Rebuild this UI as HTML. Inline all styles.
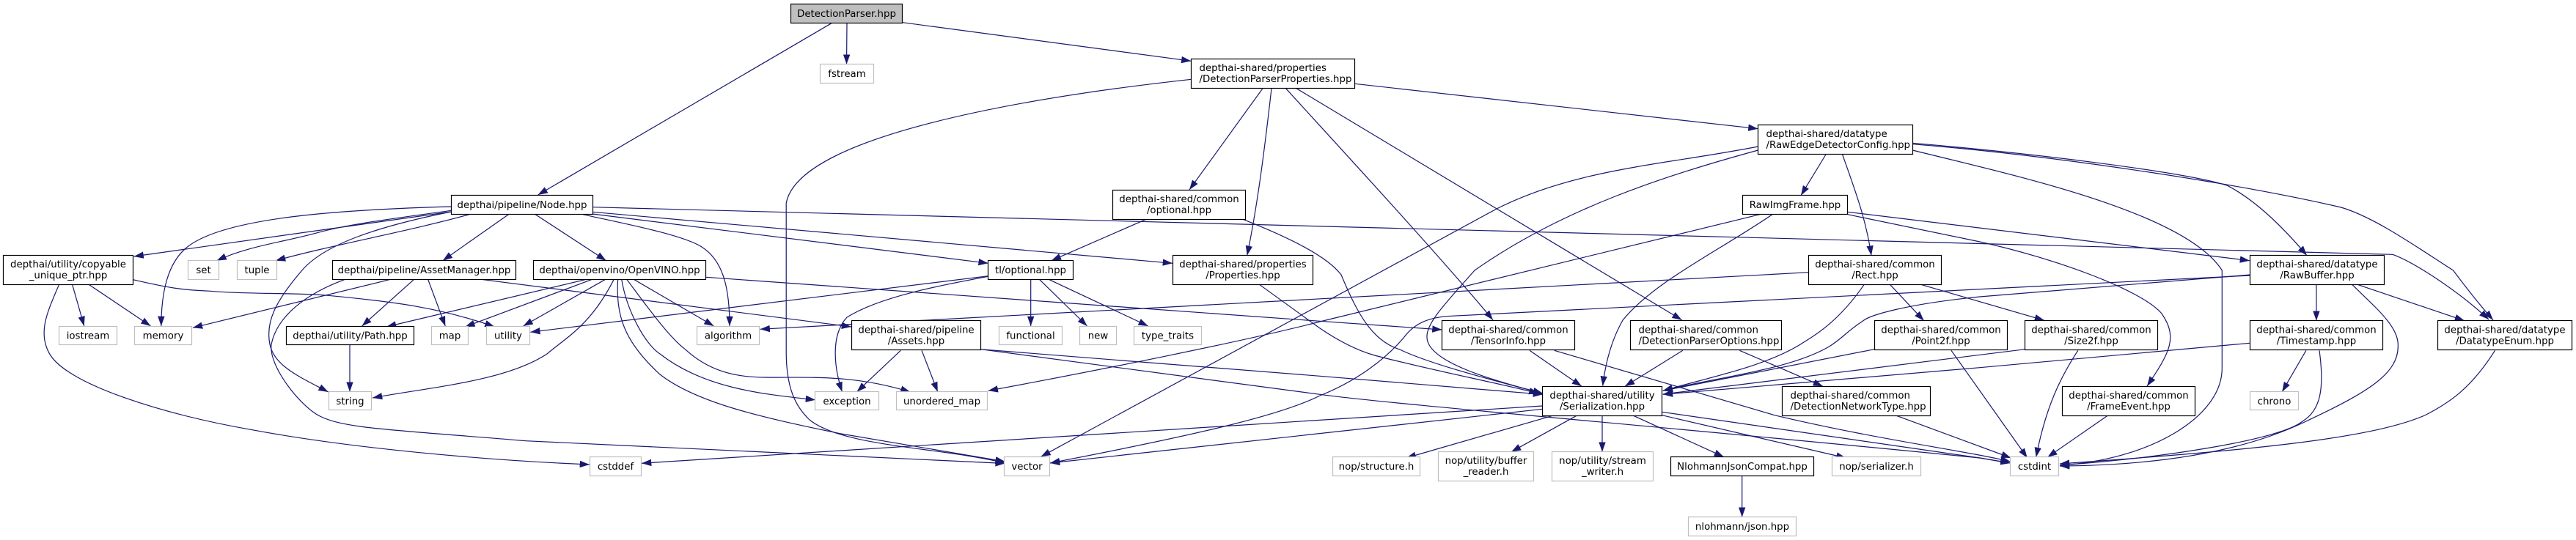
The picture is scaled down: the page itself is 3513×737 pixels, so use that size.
<!DOCTYPE html>
<html><head><meta charset="utf-8"><title>DetectionParser.hpp include graph</title>
<style>
html,body{margin:0;padding:0;background:#fff;width:3513px;height:737px;overflow:hidden}
svg{display:block}
text{font-family:"DejaVu Sans","Liberation Sans",sans-serif;font-size:13.33px;fill:#000;text-anchor:middle}
text.l{text-anchor:start}
rect{fill:#fff;stroke:#000;stroke-width:1.2}
rect.g{stroke:#bfbfbf}
rect.r{fill:#bfbfbf}
path{fill:none;stroke:#191970;stroke-width:1.2}
</style></head><body>
<svg width="3513" height="737" viewBox="0 0 3513 737" xmlns="http://www.w3.org/2000/svg">
<defs><marker id="a" markerUnits="userSpaceOnUse" markerWidth="15" markerHeight="11" refX="13.3" refY="5" orient="auto"><polygon points="0,0.3 13.3,5 0,9.7" fill="#191970"/></marker></defs>
<g marker-end="url(#a)">
<path d="M1134,31.7L733.6,266"/>
<path d="M1155,31.7L1154.5,87.7"/>
<path d="M1231,30.7L1624.4,83.3"/>
<path d="M1624.4,108.3C1400,133 1090,185 1072.2,277L1072.2,480C1072.2,530 1085,555 1104,573C1150,610 1280,610 1370.7,632"/>
<path d="M1722,120.7L1622,259"/>
<path d="M1734,120.7C1725,200 1715,280 1700.7,348.7"/>
<path d="M1753.6,120.7C1800,172 1960,345 2036,436.7"/>
<path d="M1768,120.7L2293.6,436.7"/>
<path d="M1847.6,114.3L2397.5,175.7"/>
<path d="M1563,299.3L1433.8,355.7"/>
<path d="M1695,299.3C1760,325 1810,350 1829,375C1850,425 1870,465 1909,477C1950,497 2040,520 2104,537"/>
<path d="M808,289.3L1599,359.3"/>
<path d="M808,292L1347.7,359.3"/>
<path d="M808,282.7L3263,347.3C3290,357 3350,395 3394,436"/>
<path d="M693.4,292.7L603.8,355.7"/>
<path d="M730.2,292.7L826.6,355.7"/>
<path d="M615.3,289L182.5,350"/>
<path d="M615.3,287.3C540,298 480,305 436.3,316.7C390,330 340,335 295.6,355.7"/>
<path d="M640,292.7C560,315 450,335 376,355.7"/>
<path d="M615.3,282C470,286 300,296 252,340C228,362 220,400 219.8,445"/>
<path d="M615.3,289C510,310 440,335 411,370C375,412 362,440 368,470C374,500 410,515 447.7,535"/>
<path d="M795,292.7C850,305 930,320 957,337C985,355 995,390 995,445"/>
<path d="M564.2,381.7L493.6,445"/>
<path d="M583.8,381.7L607.3,445"/>
<path d="M531,381.7L262.9,447.3"/>
<path d="M469.6,381.7C420,400 378,430 370,470C366,500 410,555 436.3,568C470,585 530,586 717,601.7L1370.7,632.5"/>
<path d="M659,381.7L1161,446"/>
<path d="M98.7,388.7L114.8,445"/>
<path d="M121.7,388.7L205.5,445"/>
<path d="M80.4,388.7C65,425 50,455 68.9,485C95,525 220,565 344,586.7C480,612 660,628 804,634"/>
<path d="M181.4,381.7C230,393 250,396 287,397.3C340,402 400,399 447.7,403.3C540,412 600,420 674.5,446"/>
<path d="M477,470.7L477,534.7"/>
<path d="M798,381.7L527,446"/>
<path d="M806.5,381.7L634.3,446"/>
<path d="M825,381.7L713.5,445"/>
<path d="M837,381.7C805,445 770,462 746,483C690,520 590,528 508,543"/>
<path d="M842.6,381.7C840,430 850,465 900,511C950,550 1040,570 1147,592L1370.7,630"/>
<path d="M847.8,381.7C855,425 880,470 900,483C960,530 1040,538 1112,545.7"/>
<path d="M855,381.7C880,415 912,460 934.4,476.7C965,505 1000,515 1043.5,515C1100,516 1160,510 1241.5,535"/>
<path d="M865,381.7L973.5,445"/>
<path d="M963,378.3L1800,438.3L1966.5,450"/>
<path d="M1347.7,376.7L723.3,453.3"/>
<path d="M1347.7,377.3C1280,390 1200,405 1155,433C1130,460 1140,510 1148.5,534.7"/>
<path d="M1405.7,381.7L1405.7,445"/>
<path d="M1417.8,381.7L1482.6,445"/>
<path d="M1431,381.7L1565.8,445"/>
<path d="M1228.3,478.3L1168.6,534.7"/>
<path d="M1257,478.3L1278.8,534.7"/>
<path d="M1337.4,476.7L1800,513.3L2104,538.3"/>
<path d="M1337.4,476.7L1800,538.3C1900,552 2300,585 2700,625L2741.5,632"/>
<path d="M1718,388.7L1800,448C1825,465 1850,478 1874.6,485C1950,505 2040,522 2098.5,537"/>
<path d="M2397.5,200C2270,225 2150,230 2041,285L1419.5,623.3"/>
<path d="M2397.5,205C2270,240 2130,285 2011,369C1975,410 1945,440 1946,460C1946,495 2040,520 2104,537"/>
<path d="M2490.5,210L2456,266.7"/>
<path d="M2512.3,210C2530,260 2545,300 2552,348.7"/>
<path d="M2608.2,195.3C2780,210 2980,235 3037,253C3070,270 3105,300 3146,348.7"/>
<path d="M2608.2,196.7C2800,212 3050,250 3192.6,283C3240,297 3300,340 3345.5,369C3365,395 3385,420 3400,436.7"/>
<path d="M2608.2,205C2750,240 2980,290 3030.3,369L3030.3,503C3030,570 2930,628 2809,635"/>
<path d="M2519.8,289.3L3068,355.7"/>
<path d="M2417,292.7C2340,345 2255,385 2213,437C2200,460 2190,490 2185.7,526.7"/>
<path d="M2399.8,292.7L1800,439C1700,465 1500,505 1347.7,533.3"/>
<path d="M2519.8,292.7L2700,330C2800,352 2920,395 2948,428C2970,460 2960,480 2928,527"/>
<path d="M2466.4,371.7L1036.6,449.3"/>
<path d="M2542,388.7C2510,435 2480,455 2460,467C2410,500 2330,515 2267.8,533.3"/>
<path d="M2577.8,388.7L2623.7,437.7"/>
<path d="M2620.8,388.7L2788,437.3"/>
<path d="M3068.6,376L1972,431.7C1950,434 1930,440 1915,460C1890,490 1850,520 1800,540C1750,565 1650,590 1432,632"/>
<path d="M3068.6,375L2700,405C2600,415 2550,430 2540.5,438C2515,455 2515,460 2494.5,473C2440,505 2340,515 2267.8,533.3"/>
<path d="M3158.9,388.7L3158.9,437.7"/>
<path d="M3215.9,388.7L3361,437.7"/>
<path d="M3208,388.7C3240,420 3270,445 3270.3,470C3272,510 3230,535 3140.7,577C3060,615 2950,635 2809,636"/>
<path d="M2103.6,558.3L1432,632"/>
<path d="M2103.6,554L875,632.3"/>
<path d="M2117.4,567.3L1917.7,625"/>
<path d="M2150,567.3L2061,616.7"/>
<path d="M2185,567.3L2185,616.7"/>
<path d="M2227.6,567.3L2351,623.7"/>
<path d="M2266.6,566.7L2517.5,625"/>
<path d="M2266.6,562.3L2700,625L2741.5,632"/>
<path d="M2375.7,649.3L2375.7,705.7"/>
<path d="M2086,478.3L2157,527.3"/>
<path d="M2119.7,478.3L2420,566.7C2560,600 2680,615 2741.5,630"/>
<path d="M2294.8,478.3L2216,527.3"/>
<path d="M2372.3,478.3L2486,527.3"/>
<path d="M2586.3,567.3L2742.5,625"/>
<path d="M2556,476.7L2267.8,533.3"/>
<path d="M2661,478.3L2764.8,625"/>
<path d="M2761.7,476.7L2267.8,538"/>
<path d="M2833.8,478.3C2810,515 2790,555 2776.7,624"/>
<path d="M3068,468.3L2700,501.7L2267.8,538.3"/>
<path d="M3144.9,478.3L3112.2,534.7"/>
<path d="M3163,478.3C3170,530 3165,560 3140,575C3110,600 2950,625 2809,635"/>
<path d="M2874.2,567.3L2792.3,624"/>
<path d="M3402.5,478.3C3370,530 3340,550 3306.6,567C3230,600 3060,615 2809,633"/>
</g>
<rect class="r" x="1078.5" y="5.5" width="152" height="26"/><text x="1154.5" y="23">DetectionParser.hpp</text>
<rect class="g" x="1118.5" y="87.5" width="73" height="26"/><text x="1155" y="105">fstream</text>
<rect x="1624.5" y="80.5" width="223" height="40"/><text class="l" x="1635.5" y="97">depthai-shared/properties</text><text class="l" x="1635.5" y="112">/DetectionParserProperties.hpp</text>
<rect x="615.5" y="266.5" width="193" height="26"/><text x="712" y="284">depthai/pipeline/Node.hpp</text>
<rect x="4.5" y="348.5" width="177" height="40"/><text x="93" y="365">depthai/utility/copyable</text><text x="93" y="380">_unique_ptr.hpp</text>
<rect class="g" x="256.5" y="355.5" width="42" height="26"/><text x="277.5" y="373">set</text>
<rect class="g" x="323.5" y="355.5" width="54" height="26"/><text x="350.5" y="373">tuple</text>
<rect x="453.5" y="355.5" width="250" height="26"/><text x="578.5" y="373">depthai/pipeline/AssetManager.hpp</text>
<rect x="727.5" y="355.5" width="235" height="26"/><text x="845" y="373">depthai/openvino/OpenVINO.hpp</text>
<rect x="1347.5" y="355.5" width="116" height="26"/><text x="1405.5" y="373">tl/optional.hpp</text>
<rect x="1517.5" y="259.5" width="181" height="40"/><text x="1608" y="276">depthai-shared/common</text><text x="1608" y="291">/optional.hpp</text>
<rect x="1599.5" y="348.5" width="191" height="40"/><text x="1695" y="365">depthai-shared/properties</text><text x="1695" y="380">/Properties.hpp</text>
<rect x="2397.5" y="170.5" width="211" height="40"/><text class="l" x="2408.5" y="187">depthai-shared/datatype</text><text class="l" x="2408.5" y="202">/RawEdgeDetectorConfig.hpp</text>
<rect x="2376.5" y="266.5" width="143" height="26"/><text x="2448" y="284">RawImgFrame.hpp</text>
<rect x="2466.5" y="348.5" width="181" height="40"/><text x="2557" y="365">depthai-shared/common</text><text x="2557" y="380">/Rect.hpp</text>
<rect x="3068.5" y="348.5" width="183" height="40"/><text x="3160" y="365">depthai-shared/datatype</text><text x="3160" y="380">/RawBuffer.hpp</text>
<rect class="g" x="80.5" y="445.5" width="79" height="25"/><text x="120" y="462.5">iostream</text>
<rect class="g" x="183.5" y="445.5" width="78" height="25"/><text x="222.5" y="462.5">memory</text>
<rect x="390.5" y="445.5" width="174" height="25"/><text x="477.5" y="462.5">depthai/utility/Path.hpp</text>
<rect class="g" x="588.5" y="445.5" width="50" height="25"/><text x="613.5" y="462.5">map</text>
<rect class="g" x="663.5" y="445.5" width="59" height="25"/><text x="693" y="462.5">utility</text>
<rect class="g" x="950.5" y="445.5" width="85" height="25"/><text x="993" y="462.5">algorithm</text>
<rect x="1161.5" y="437.5" width="176" height="40"/><text x="1249.5" y="454.5">depthai-shared/pipeline</text><text x="1249.5" y="469.5">/Assets.hpp</text>
<rect class="g" x="1362.5" y="445.5" width="86" height="25"/><text x="1405.5" y="462.5">functional</text>
<rect class="g" x="1472.5" y="445.5" width="50" height="25"/><text x="1497.5" y="462.5">new</text>
<rect class="g" x="1546.5" y="445.5" width="92" height="25"/><text x="1592.5" y="462.5">type_traits</text>
<rect x="1966.5" y="437.5" width="181" height="40"/><text x="2057" y="454.5">depthai-shared/common</text><text x="2057" y="469.5">/TensorInfo.hpp</text>
<rect x="2223.5" y="437.5" width="206" height="40"/><text class="l" x="2234.5" y="454.5">depthai-shared/common</text><text class="l" x="2234.5" y="469.5">/DetectionParserOptions.hpp</text>
<rect x="2556.5" y="437.5" width="181" height="40"/><text x="2647" y="454.5">depthai-shared/common</text><text x="2647" y="469.5">/Point2f.hpp</text>
<rect x="2761.5" y="437.5" width="181" height="40"/><text x="2852" y="454.5">depthai-shared/common</text><text x="2852" y="469.5">/Size2f.hpp</text>
<rect x="3068.5" y="437.5" width="181" height="40"/><text x="3159" y="454.5">depthai-shared/common</text><text x="3159" y="469.5">/Timestamp.hpp</text>
<rect x="3324.5" y="437.5" width="183" height="40"/><text x="3416" y="454.5">depthai-shared/datatype</text><text x="3416" y="469.5">/DatatypeEnum.hpp</text>
<rect class="g" x="448.5" y="534.5" width="58" height="25"/><text x="477.5" y="552">string</text>
<rect class="g" x="1111.5" y="534.5" width="87" height="25"/><text x="1155" y="552">exception</text>
<rect class="g" x="1222.5" y="534.5" width="124" height="25"/><text x="1284.5" y="552">unordered_map</text>
<rect class="g" x="3068.5" y="534.5" width="66" height="25"/><text x="3101.5" y="552">chrono</text>
<rect x="2103.5" y="527.5" width="163" height="40"/><text x="2185" y="544">depthai-shared/utility</text><text x="2185" y="559">/Serialization.hpp</text>
<rect x="2430.5" y="527.5" width="202" height="40"/><text class="l" x="2441.5" y="544">depthai-shared/common</text><text class="l" x="2441.5" y="559">/DetectionNetworkType.hpp</text>
<rect x="2812.5" y="527.5" width="181" height="40"/><text x="2903" y="544">depthai-shared/common</text><text x="2903" y="559">/FrameEvent.hpp</text>
<rect class="g" x="804.5" y="623.5" width="70" height="26"/><text x="839.5" y="641">cstddef</text>
<rect class="g" x="1369.5" y="623.5" width="62" height="26"/><text x="1400.5" y="641">vector</text>
<rect class="g" x="1817.5" y="623.5" width="119" height="26"/><text x="1877" y="641">nop/structure.h</text>
<rect class="g" x="1961.5" y="616.5" width="130" height="40"/><text x="2026.5" y="633">nop/utility/buffer</text><text x="2026.5" y="648">_reader.h</text>
<rect class="g" x="2116.5" y="616.5" width="138" height="40"/><text x="2185.5" y="633">nop/utility/stream</text><text x="2185.5" y="648">_writer.h</text>
<rect x="2278.5" y="623.5" width="195" height="26"/><text x="2376" y="641">NlohmannJsonCompat.hpp</text>
<rect class="g" x="2498.5" y="623.5" width="121" height="26"/><text x="2559" y="641">nop/serializer.h</text>
<rect class="g" x="2741.5" y="623.5" width="66" height="26"/><text x="2774.5" y="641">cstdint</text>
<rect class="g" x="2302.5" y="705.5" width="147" height="26"/><text x="2376" y="723">nlohmann/json.hpp</text>
</svg>
</body></html>
